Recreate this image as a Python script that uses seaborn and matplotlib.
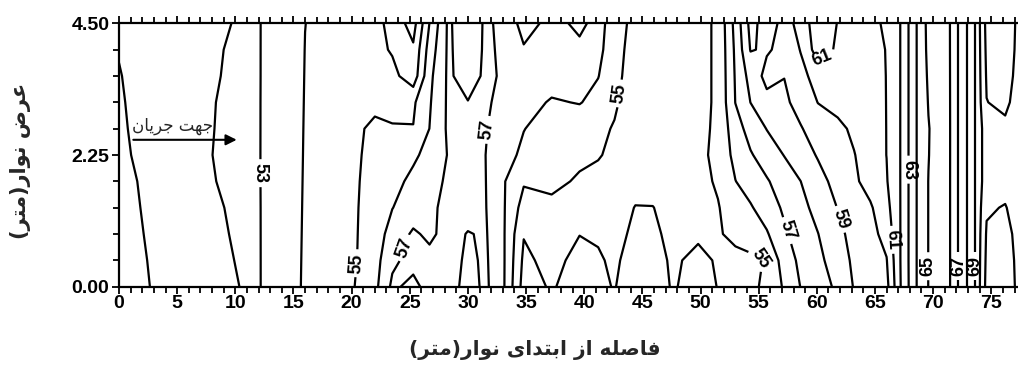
import matplotlib
matplotlib.use("Agg")
import numpy as np
import seaborn as sns
import matplotlib.pyplot as plt
from matplotlib.ticker import MultipleLocator, FixedLocator

# Stations along the strip (m) and across its width (m)
x_stations = [0, 2.5, 5, 8, 10.5, 12.2, 14, 16, 18.5, 20.5,
              22, 23.5, 25.3, 26.7, 28.3, 30, 31.5, 33, 34.8, 37.2,
              39.6, 41.2, 42.6, 44.4, 45.9, 47.6, 49.8, 51.5, 53, 54.3,
              55.7, 57.2, 58.6, 60.1, 61.8, 63.2, 64.6, 66, 67.2, 68.6,
              69.6, 71.5, 73.6, 74.6, 76.2, 77.4]
y_rows = [0.0, 0.45, 0.9, 1.35, 1.8, 2.25, 2.7, 3.15, 3.6, 4.05, 4.5]

# Measured values, one list per row across the strip
z_y000 = [50.66, 50.98, 51.30, 51.68, 52.02, 53.01, 53.55, 54.10, 54.63, 55.05,
          55.73, 57.20, 56.70, 57.40, 57.50, 56.60, 57.20, 56.20, 53.60, 54.10,
          53.50, 53.80, 54.05, 53.40, 53.40, 54.10, 53.60, 54.03, 54.40, 54.75,
          55.24, 56.12, 57.02, 57.52, 58.20, 59.06, 59.48, 59.70, 61.98, 64.02,
          65.02, 66.02, 69.05, 71.30, 71.90, 70.60]
z_y045 = [50.69, 51.01, 51.34, 51.68, 52.10, 53.01, 53.54, 54.09, 54.60, 55.01,
          55.62, 56.80, 57.35, 57.30, 57.45, 56.80, 57.15, 56.20, 53.80, 54.30,
          53.70, 53.90, 54.15, 53.60, 53.60, 54.15, 53.75, 54.10, 54.43, 54.72,
          55.10, 56.45, 57.22, 57.74, 58.53, 59.17, 59.59, 59.95, 62.02, 64.02,
          65.02, 66.02, 69.05, 71.20, 71.70, 70.60]
z_y090 = [50.72, 51.05, 51.38, 51.72, 52.20, 53.01, 53.53, 54.08, 54.58, 54.99,
          55.54, 56.35, 57.15, 56.80, 57.35, 56.95, 57.10, 56.18, 54.05, 54.40,
          54.02, 54.10, 54.30, 53.80, 53.85, 54.20, 54.15, 54.80, 55.50, 55.70,
          55.90, 56.85, 57.44, 57.98, 58.78, 59.27, 59.69, 60.33, 62.02, 64.02,
          65.02, 66.02, 69.05, 71.10, 71.40, 70.60]
z_y135 = [50.75, 51.09, 51.43, 51.78, 52.30, 53.01, 53.52, 54.07, 54.57, 54.97,
          55.47, 55.98, 56.45, 56.81, 57.25, 57.40, 57.05, 56.15, 54.60, 54.70,
          54.50, 54.35, 54.40, 53.97, 53.98, 54.30, 54.60, 54.95, 55.45, 55.90,
          56.50, 57.15, 57.70, 58.32, 59.03, 59.46, 59.88, 60.68, 62.02, 64.02,
          65.02, 66.02, 69.05, 70.90, 71.05, 70.60]
z_y180 = [50.78, 51.13, 51.49, 51.91, 52.53, 53.01, 53.51, 54.06, 54.55, 54.95,
          55.33, 55.72, 56.21, 56.64, 57.15, 57.35, 57.03, 56.12, 55.10, 55.30,
          54.85, 54.80, 54.50, 54.30, 54.30, 54.45, 54.75, 55.10, 55.98, 56.45,
          56.91, 57.47, 57.99, 58.66, 59.33, 59.83, 60.37, 60.93, 62.02, 64.02,
          65.02, 66.02, 69.05, 70.60, 70.70, 70.60]
z_y225 = [50.85, 51.21, 51.56, 51.99, 52.59, 53.01, 53.50, 54.05, 54.53, 54.93,
          55.22, 55.50, 55.85, 56.27, 57.05, 57.30, 57.01, 56.29, 55.85, 55.55,
          55.25, 55.05, 54.85, 54.70, 54.65, 54.70, 54.75, 55.25, 56.29, 56.91,
          57.46, 58.03, 58.54, 59.08, 59.56, 59.96, 60.47, 61.01, 62.02, 64.02,
          64.97, 66.02, 69.05, 70.60, 70.50, 70.60]
z_y270 = [50.90, 51.23, 51.56, 51.95, 52.55, 53.01, 53.50, 54.04, 54.47, 54.80,
          55.30, 55.05, 55.03, 56.01, 57.15, 57.30, 57.08, 56.41, 56.02, 55.69,
          55.37, 55.15, 54.95, 54.75, 54.70, 54.70, 54.70, 55.20, 56.57, 57.38,
          58.03, 58.50, 58.93, 59.45, 59.78, 60.17, 60.59, 61.01, 62.02, 64.02,
          64.95, 66.02, 69.05, 70.60, 70.80, 70.60]
z_y315 = [50.94, 51.22, 51.53, 51.92, 52.52, 53.01, 53.49, 54.03, 54.26, 54.50,
          54.65, 54.80, 54.85, 55.90, 57.15, 57.03, 57.12, 56.78, 56.39, 55.90,
          56.05, 55.70, 55.10, 54.60, 54.75, 54.75, 54.70, 55.15, 57.02, 58.01,
          58.70, 58.82, 59.34, 60.02, 60.30, 60.50, 60.72, 61.01, 62.02, 64.02,
          65.05, 66.02, 69.05, 70.98, 71.20, 70.60]
z_y360 = [50.97, 51.26, 51.54, 51.85, 52.35, 53.01, 53.48, 54.02, 54.20, 54.35,
          54.45, 54.30, 53.40, 55.75, 57.15, 56.60, 57.15, 56.92, 56.75, 56.45,
          56.20, 56.03, 55.35, 54.40, 54.75, 54.75, 54.70, 55.15, 57.09, 58.36,
          59.30, 59.02, 59.70, 60.40, 60.37, 60.59, 60.80, 61.01, 62.02, 64.02,
          65.15, 66.02, 69.05, 71.10, 71.50, 70.60]
z_y405 = [51.03, 51.27, 51.54, 51.80, 52.30, 53.01, 53.47, 54.01, 54.20, 54.35,
          54.30, 53.90, 53.15, 55.43, 57.15, 56.50, 57.12, 56.90, 56.10, 56.50,
          56.20, 56.25, 55.45, 54.50, 54.75, 54.75, 54.70, 55.15, 57.18, 59.05,
          58.90, 59.25, 60.04, 61.50, 60.85, 60.85, 60.90, 61.01, 62.02, 64.02,
          65.25, 66.02, 69.05, 71.20, 71.80, 70.60]
z_y450 = [51.15, 51.35, 51.50, 51.60, 52.20, 53.01, 53.47, 53.995, 54.20, 54.35,
          54.40, 53.60, 52.60, 55.02, 57.15, 56.40, 57.12, 56.85, 55.60, 56.30,
          55.80, 56.30, 55.60, 54.60, 54.75, 54.75, 54.70, 55.15, 57.33, 59.30,
          58.60, 59.25, 60.60, 61.40, 60.98, 60.90, 60.95, 61.03, 62.02, 64.02,
          65.30, 66.02, 69.05, 71.30, 72.00, 70.60]

plain_levels = [52, 54, 56, 58, 60, 62, 64, 66, 68, 70]
labelled_levels = [51, 53, 55, 57, 59, 61, 63, 65, 67, 69, 71]
label_spots = [(12.18, 1.94), (20.5, 0.40), (24.0, 0.70), (31.7, 2.68),
               (43.1, 3.30), (55.4, 0.55), (57.3, 0.95), (62.0, 1.15),
               (60.3, 3.95), (66.4, 0.80), (67.85, 2.00), (69.55, 0.35),
               (72.2, 0.35), (73.65, 0.35)]

x_ticks = list(range(0, 80, 5))
y_ticks = [0.0, 2.25, 4.5]

x_title = "فاصله از ابتدای نوار(متر)"
y_title = "عرض نوار(متر)"
flow_note = "جهت جریان"

# --- Persian text: pick contextual letter forms and lay out right to left ---
_FORMS = {
    'ا': ('\uFE8D', '\uFE8E', None, None),
    'ب': ('\uFE8F', '\uFE90', '\uFE91', '\uFE92'),
    'ت': ('\uFE95', '\uFE96', '\uFE97', '\uFE98'),
    'ج': ('\uFE9D', '\uFE9E', '\uFE9F', '\uFEA0'),
    'د': ('\uFEA9', '\uFEAA', None, None),
    'ر': ('\uFEAD', '\uFEAE', None, None),
    'ز': ('\uFEAF', '\uFEB0', None, None),
    'ص': ('\uFEB9', '\uFEBA', '\uFEBB', '\uFEBC'),
    'ض': ('\uFEBD', '\uFEBE', '\uFEBF', '\uFEC0'),
    'ع': ('\uFEC9', '\uFECA', '\uFECB', '\uFECC'),
    'ف': ('\uFED1', '\uFED2', '\uFED3', '\uFED4'),
    'ل': ('\uFEDD', '\uFEDE', '\uFEDF', '\uFEE0'),
    'م': ('\uFEE1', '\uFEE2', '\uFEE3', '\uFEE4'),
    'ن': ('\uFEE5', '\uFEE6', '\uFEE7', '\uFEE8'),
    'ه': ('\uFEE9', '\uFEEA', '\uFEEB', '\uFEEC'),
    'و': ('\uFEED', '\uFEEE', None, None),
    'ی': ('\uFBFC', '\uFBFD', '\uFBFE', '\uFBFF'),
}


def rtl(text):
    out = []
    n = len(text)
    for i, ch in enumerate(text):
        forms = _FORMS.get(ch)
        if forms is None:
            out.append(ch)
            continue
        prev = text[i - 1] if i > 0 else ''
        nxt = text[i + 1] if i + 1 < n else ''
        join_prev = prev in _FORMS and _FORMS[prev][2] is not None
        join_next = forms[2] is not None and nxt in _FORMS
        if join_prev and join_next:
            out.append(forms[3])
        elif join_prev:
            out.append(forms[1])
        elif join_next:
            out.append(forms[2])
        else:
            out.append(forms[0])
    mirror = {'(': ')', ')': '('}
    return ''.join(mirror.get(c, c) for c in reversed(out))


sns.set_theme(style="ticks")
plt.rcParams['font.family'] = ['Liberation Sans', 'DejaVu Sans']
plt.rcParams['font.weight'] = 'bold'

fig = plt.figure(figsize=(10.18, 3.65), dpi=100)
ax = fig.add_axes([0.1169, 0.2145, 0.8831, 0.7216])

Z = np.array([z_y000, z_y045, z_y090, z_y135, z_y180, z_y225,
              z_y270, z_y315, z_y360, z_y405, z_y450])
ax.contour(x_stations, y_rows, Z, levels=plain_levels,
           colors='black', linewidths=1.6)
cs_odd = ax.contour(x_stations, y_rows, Z, levels=labelled_levels,
                    colors='black', linewidths=1.6)
texts = cs_odd.clabel(manual=label_spots, inline=True, inline_spacing=4,
                      fmt='%d', fontsize=13)
for t in texts:
    t.set_fontweight('bold')

ax.set_xlim(0, 77.3)
ax.set_ylim(0, 4.5)

ax.xaxis.set_major_locator(FixedLocator(x_ticks))
ax.xaxis.set_minor_locator(MultipleLocator(1))
ax.yaxis.set_major_locator(FixedLocator(y_ticks))
ax.yaxis.set_minor_locator(MultipleLocator(0.45))
ax.set_yticklabels([f"{v:.2f}" for v in y_ticks])
ax.tick_params(axis='x', which='both', direction='out', top=True, bottom=True,
               width=1.3, colors='black')
ax.tick_params(axis='x', which='major', length=5, pad=1, labelsize=14)
ax.tick_params(axis='x', which='minor', length=4)
ax.tick_params(axis='y', which='both', direction='out', left=True, right=False,
               width=1.3, colors='black')
ax.tick_params(axis='y', which='major', length=5, pad=2, labelsize=14)
ax.tick_params(axis='y', which='minor', length=4)
for lbl in ax.get_xticklabels() + ax.get_yticklabels():
    lbl.set_fontweight('bold')

for side in ('left', 'bottom', 'top'):
    ax.spines[side].set_linewidth(1.6)
    ax.spines[side].set_color('black')
ax.spines['right'].set_visible(False)

ax.annotate('', xy=(10.12, 2.51), xytext=(1.23, 2.51),
            arrowprops=dict(arrowstyle='-|>', color='black', lw=1.5,
                            mutation_scale=16, shrinkA=0, shrinkB=0))
ax.text(4.64, 2.74, rtl(flow_note), ha='center', va='center',
        fontsize=12, fontweight='normal', family=['DejaVu Sans'])

fig.text(0.525, 0.041, rtl(x_title), ha='center', va='center',
         fontsize=14.5, fontweight='bold', family=['DejaVu Sans'])
fig.text(0.02, 0.56, rtl(y_title), ha='center', va='center', rotation=90,
         fontsize=15, fontweight='bold', family=['DejaVu Sans'])

fig.savefig('out.png', dpi=100)
